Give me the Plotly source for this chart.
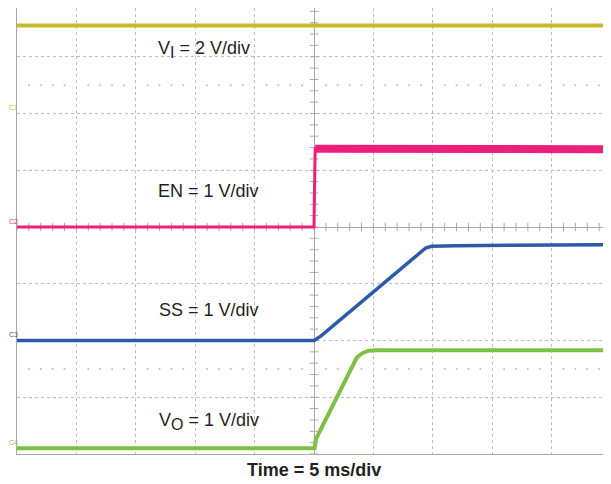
import plotly.graph_objects as go
import numpy as np

# Osciloscopio: 5 ms/div, 10 div horizontales, disparo en t = 0
t_vi = [-25, 25]
v_vi = [3.1, 3.1]

t_en = [-25, 0, 0.05, 0.1, 25]
v_en = [0, 0, 0.75, 1.38, 1.37]

t_ss = [-25, 0, 0.6, 5.0, 9.4, 9.9, 12, 25]
v_ss = [0, 0, 0.08, 0.86, 1.63, 1.66, 1.67, 1.69]

t_vo = [-25, 0.05, 0.15, 2.0, 3.6, 4.1, 4.6, 5.2, 25]
v_vo = [0, 0, 0.16, 0.92, 1.60, 1.68, 1.72, 1.73, 1.73]

canales = ["C1", "C2", "C3", "C4"]
SUB = "<sub><span style='font-size:16px'>{}</span></sub>"
etiquetas = ["V" + SUB.format("I") + " = 2 V/div", "EN = 1 V/div", "SS = 1 V/div",
             "V" + SUB.format("O") + " = 1 V/div"]
volts_div = [2, 1, 1, 1]
offset_div = [2.0, 0.0, -2.0, -3.9]
colores = ["#c8b82c", "#ec1f7b", "#2b5aa8", "#7bc143"]

GRID = "#bdbdbd"
CENTRO = "#a8a8a8"
FUENTE = "Liberation Sans, Arial, sans-serif"

fig = go.Figure()

# reticula: puntos en las filas +-2.5 div y marcas menores en la cruz central
minor_t = np.arange(-25, 25.01, 1.0)
minor_t = minor_t[np.abs(minor_t % 5) > 0.01]
for yy in [2.5, -2.5]:
    fig.add_trace(go.Scatter(x=minor_t, y=[yy] * len(minor_t), mode="markers",
                             marker=dict(size=2, color=GRID), hoverinfo="skip", showlegend=False))
fig.add_trace(go.Scatter(x=np.arange(-25, 25.01, 1.0), y=[0] * 51, mode="markers",
                         marker=dict(symbol="line-ns", size=6, line=dict(width=1, color=CENTRO)),
                         hoverinfo="skip", showlegend=False))
minor_y = np.arange(-4, 4.01, 0.2)
fig.add_trace(go.Scatter(x=[0] * len(minor_y), y=minor_y, mode="markers",
                         marker=dict(symbol="line-ew", size=6, line=dict(width=1, color=CENTRO)),
                         hoverinfo="skip", showlegend=False))

datos = [(t_vi, v_vi), (t_en, v_en), (t_ss, v_ss), (t_vo, v_vo)]
anchos = [4, 3, 3.5, 4]
for i, (t, v) in enumerate(datos):
    y = [offset_div[i] + val / volts_div[i] for val in v]
    fig.add_trace(go.Scatter(x=t, y=y, mode="lines", name=canales[i],
                             line=dict(color=colores[i], width=anchos[i]),
                             showlegend=False))

# EN en alto tiene mucho ruido: banda gruesa
t_en_alto = [tt for tt in t_en if tt >= 0.1]
v_en_alto = [offset_div[1] + vv / volts_div[1] for tt, vv in zip(t_en, v_en) if tt >= 0.1]
fig.add_trace(go.Scatter(x=t_en_alto, y=v_en_alto, mode="lines",
                         line=dict(color=colores[1], width=8), showlegend=False))

# marcadores de tierra de cada canal
for i in range(4):
    fig.add_trace(go.Scatter(x=[-25.45], y=[offset_div[i] - 0.06], mode="markers",
                             marker=dict(symbol="line-ew", size=6, line=dict(width=2, color=colores[i])),
                             cliponaxis=False, hoverinfo="skip", showlegend=False))
    fig.add_annotation(x=-9 / 594, y=offset_div[i] + 0.02, xref="paper", yref="y", text=canales[i],
                       showarrow=False, xanchor="left", yanchor="bottom", borderpad=0,
                       font=dict(family=FUENTE, size=7, color=colores[i]))

# marcador de disparo
fig.add_trace(go.Scatter(x=[0], y=[-4.06], mode="markers",
                         marker=dict(symbol="triangle-up", size=6, color="#ec1f7b"),
                         cliponaxis=False, hoverinfo="skip", showlegend=False))

pos_label = [(-5.25, 3.12), (-4.5, 0.63), (-4.5, -1.46), (-4.5, -3.42)]
for (lx, ly), txt in zip(pos_label, etiquetas):
    fig.add_annotation(x=lx, y=ly, xref="x", yref="y", text=txt, showarrow=False,
                       xanchor="right", yanchor="middle",
                       font=dict(family=FUENTE, size=18, color="#231f20"))

fig.add_annotation(x=0.5, y=-16 / 446, xref="paper", yref="paper", text="<b>Time = 5 ms/div</b>",
                   showarrow=False, xanchor="center", yanchor="middle",
                   font=dict(family=FUENTE, size=18, color="#231f20"))

# la pagina deja 8 px de margen: el area de trazado va de y=8 a y=454 en pantalla
fig.update_layout(
    width=603, height=476,
    margin=dict(l=9, r=0, t=0, b=30, pad=0),
    plot_bgcolor="white", paper_bgcolor="white",
    xaxis=dict(range=[-25, 25], tick0=0, dtick=5, showgrid=True, gridcolor=GRID, griddash="dot",
               gridwidth=1, zeroline=True, zerolinecolor=CENTRO, zerolinewidth=1,
               showline=True, linecolor=CENTRO, linewidth=1, showticklabels=False, ticks=""),
    yaxis=dict(range=[-4, 4 - 8 / 56.75], tick0=0, dtick=1, showgrid=True, gridcolor=GRID, griddash="dot",
               gridwidth=1, zeroline=True, zerolinecolor=CENTRO, zerolinewidth=1,
               showline=True, linecolor=CENTRO, linewidth=1, showticklabels=False, ticks=""),
)

fig.write_html("out.html")
